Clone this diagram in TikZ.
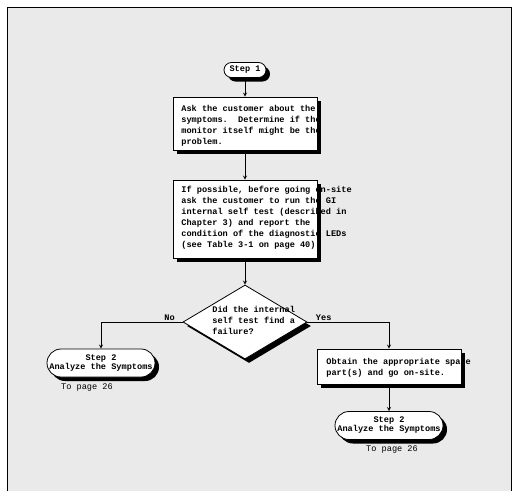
\documentclass[tikz,border=0pt]{standalone}
\usepackage{fontspec}
\setmonofont{Liberation Mono}
\usetikzlibrary{shapes.geometric,shapes.misc,shadows}
\definecolor{pagegray}{RGB}{234,234,234}
\newcommand{\chartfont}{\fontsize{8.6}{11}\selectfont\ttfamily\bfseries}
\newcommand{\termfont}{\fontsize{8.6}{9}\selectfont\ttfamily\bfseries}
\newcommand{\notefont}{\fontsize{8.6}{11}\selectfont\ttfamily}

\tikzset{
  boxshadow/.style={drop shadow={opacity=1,fill=black,shadow xshift=4pt,shadow yshift=-4pt}},
  procbox/.style={draw,fill=white,minimum width=144pt,inner sep=0pt,boxshadow},
  terminal/.style={rounded rectangle,draw,fill=white,inner sep=0pt,boxshadow},
  decision/.style={diamond,draw,fill=white,inner sep=0pt,minimum width=124pt,minimum height=74pt,boxshadow},
  boxtxt/.style={anchor=north west,inner sep=0pt,align=left,font=\chartfont},
  termtxt/.style={inner sep=0pt,align=center,font=\termfont},
  pagetxt/.style={inner sep=0pt,font=\notefont},
  answer/.style={inner sep=1pt,font=\chartfont}
}

\begin{document}
\begin{tikzpicture}[x=1pt,y=-1pt,>=stealth,line width=0.8pt]
\useasboundingbox (0,0) rectangle (518,491);
% page
\fill[pagegray] (7,7) rectangle (511,491);
\draw[line width=1pt] (7,491) -- (7,7) -- (511,7) -- (511,491);

% shapes
\node[terminal,minimum width=42pt,minimum height=15pt] (step1) at (245,70) {};
\node[procbox,minimum height=53pt] (box1) at (245,123.5) {};
\node[procbox,minimum height=78pt] (box2) at (245,219) {};
\node[decision] (dia) at (245,322) {};
\node[terminal,minimum width=108pt,minimum height=28pt] (endL) at (101,363) {};
\node[procbox,minimum height=35pt] (box3) at (389,366.5) {};
\node[terminal,minimum width=108pt,minimum height=28pt] (endR) at (389,425.5) {};

% texts
\node[termtxt] (step1txt) at (step1) {Step 1};
\node[boxtxt] (box1txt) at (181,105) {Ask the customer about the\\symptoms.~ Determine if the\\monitor itself might be the\\problem.};
\node[boxtxt] (box2txt) at (181,186) {If possible, before going on-site\\ask the customer to run the GI\\internal self test (described in\\Chapter 3) and report the\\condition of the diagnostic LEDs\\(see Table 3-1 on page 40)};
\node[boxtxt] (diatxt) at (212,306) {Did the internal\\self test find a\\failure?};
\node[boxtxt] (box3txt) at (326,358) {Obtain the appropriate spare\\part(s) and go on-site.};
\node[termtxt] (endLtxt) at (endL) {Step 2\\Analyze the Symptoms};
\node[termtxt] (endRtxt) at (endR) {Step 2\\Analyze the Symptoms};
\node[pagetxt] (toL) at (87,388) {To page 26};
\node[pagetxt] (toR) at (392,450) {To page 26};

% connectors
\draw[->] (step1) -- (box1);
\draw[->] (box1) -- (box2);
\draw[->] (box2) -- (dia);
\draw[->] (dia.west) -| node[answer,pos=0.08,above] (nolbl) {No} (endL);
\draw[->] (dia.east) -| node[answer,pos=0.1,above] (yeslbl) {Yes} (box3);
\draw[->] (box3) -- (endR);
\end{tikzpicture}
\end{document}
